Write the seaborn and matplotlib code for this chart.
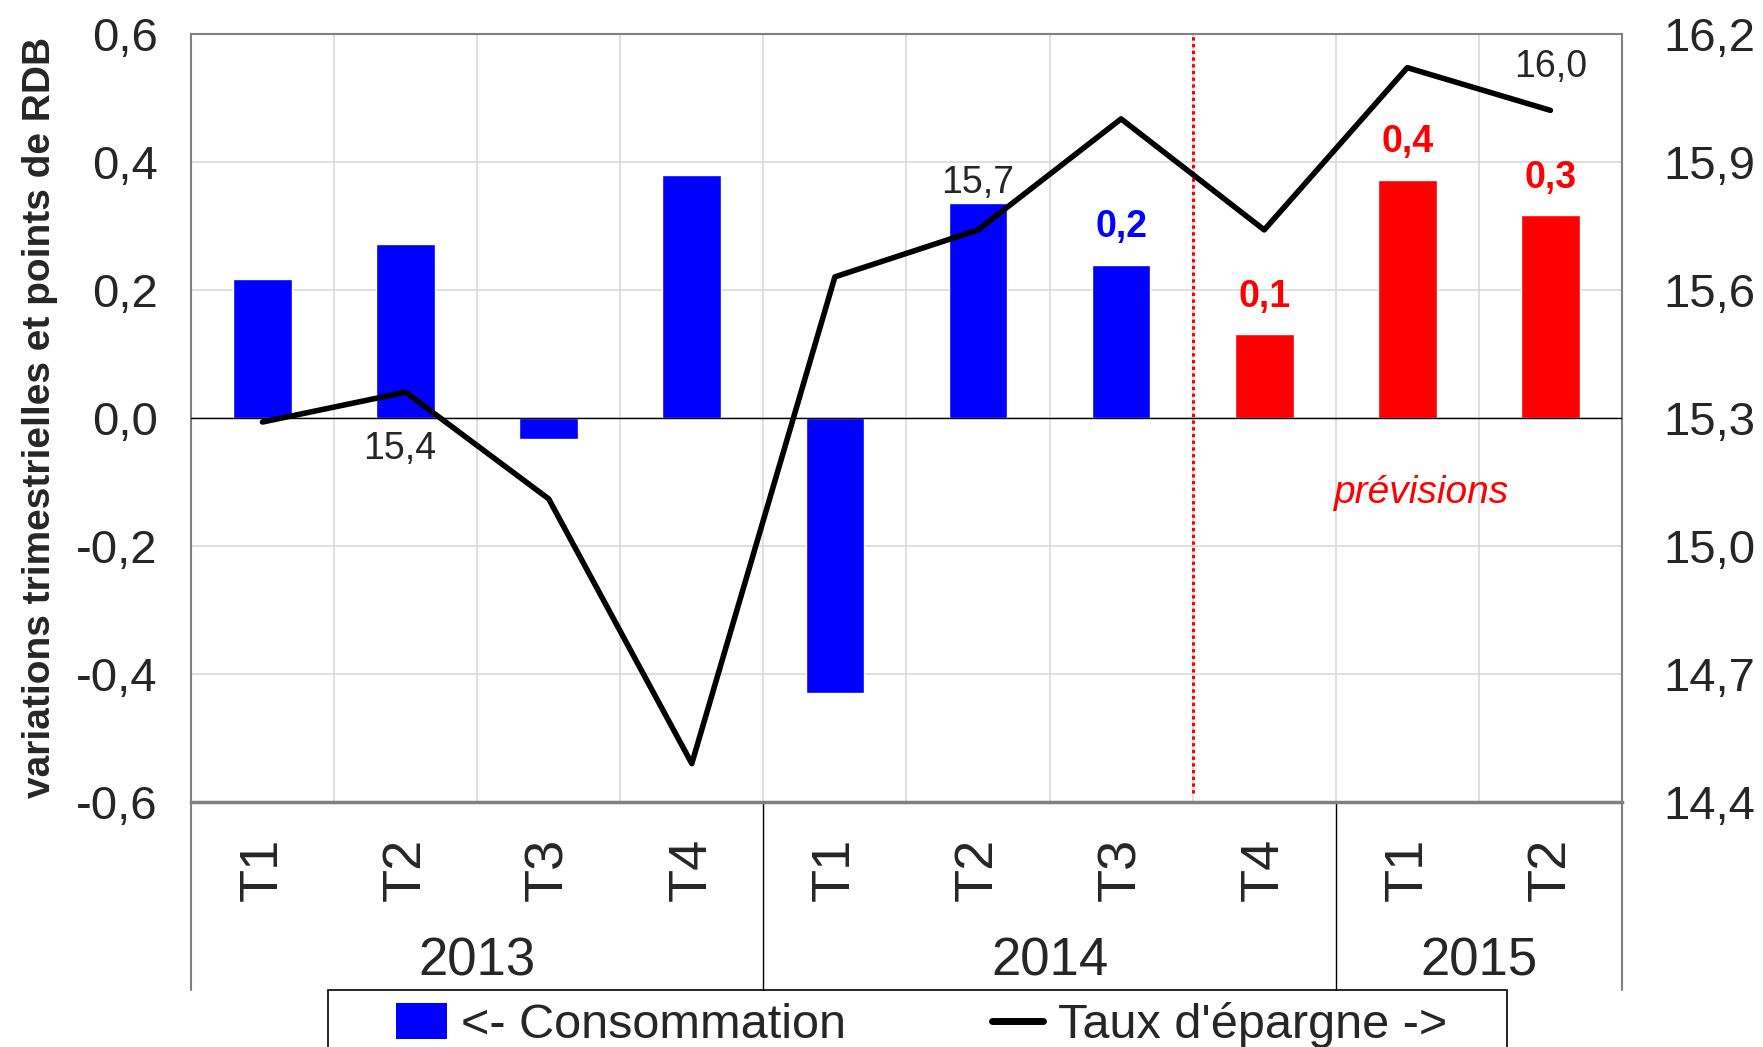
import matplotlib
matplotlib.use("Agg")
import matplotlib.pyplot as plt
import matplotlib.ticker as mticker
import matplotlib.transforms as mtransforms
from matplotlib.patches import Patch, Rectangle
from matplotlib.lines import Line2D
import seaborn as sns
import numpy as np
import pandas as pd

# data
periodes = ["2013 T1", "2013 T2", "2013 T3", "2013 T4",
            "2014 T1", "2014 T2", "2014 T3", "2014 T4",
            "2015 T1", "2015 T2"]
trimestres = ["T1", "T2", "T3", "T4", "T1", "T2", "T3", "T4", "T1", "T2"]
annees = ["2013", "2014", "2015"]
trim_par_annee = [4, 4, 2]
consommation = [0.216, 0.272, -0.033, 0.379, -0.43, 0.335, 0.239, 0.13, 0.372, 0.316]
taux_epargne = [15.29, 15.36, 15.11, 14.49, 15.63, 15.74, 16.0, 15.74, 16.12, 16.02]
statut = ["obs"] * 7 + ["prev"] * 3

BLUE = "#0000FF"
RED = "#FF0000"
NARROW = ["Liberation Sans Narrow", "Liberation Sans", "DejaVu Sans"]

sns.set_theme(style="white")
plt.rcParams["font.family"] = ["Liberation Sans", "DejaVu Sans"]

def virgule(v, pos=None):
    return f"{v:.1f}".replace(".", ",")

df = pd.DataFrame({"periode": periodes, "conso": consommation,
                   "epargne": taux_epargne, "statut": statut})
df["pos"] = np.arange(len(df))

fig = plt.figure(figsize=(17.63, 10.47), dpi=100)
ax = fig.add_axes([0.1083, 0.234, 0.8117, 0.734])

sns.barplot(data=df, x="periode", y="conso", hue="statut",
            palette={"obs": BLUE, "prev": RED}, dodge=False, width=0.41,
            saturation=1, legend=False, ax=ax, zorder=3)

ax.set_xlim(-0.5, len(df) - 0.5)
ax.set_ylim(-0.6, 0.6)
ax.yaxis.set_major_locator(mticker.MultipleLocator(0.2))
ax.yaxis.set_major_formatter(mticker.FuncFormatter(virgule))
ax.set_xticks(df["pos"])
ax.set_xticklabels(trimestres, rotation=90)
ax.xaxis.set_minor_locator(mticker.FixedLocator(df["pos"].values[:-1] + 0.5))
ax.tick_params(axis="x", which="both", length=0, pad=26, labelsize=39)
ax.tick_params(axis="y", length=0, pad=24, labelsize=34)
ax.grid(axis="y", which="major", color="#d9d9d9", lw=1.2, zorder=0)
ax.grid(axis="x", which="minor", color="#d9d9d9", lw=1.2, zorder=0)
ax.axhline(0, color="black", lw=1, zorder=4)
ax.set_xlabel("")
ax.set_ylabel("variations trimestrielles et points de RDB", fontsize=28,
              fontweight="bold", family=NARROW)
ax.yaxis.set_label_coords(-0.093, 0.5)
for side in ["left", "top", "right"]:
    ax.spines[side].set_color("#808080")
    ax.spines[side].set_linewidth(1.5)
ax.spines["bottom"].set_color("#808080")
ax.spines["bottom"].set_linewidth(2.5)

# forecast separator
ax.axvline(6.5, ymin=0.012, ymax=1, color=RED, ls=(0, (1.1, 1.1)), lw=2.2,
           zorder=5)
ax.text(8.1, -0.118, "prévisions", color=RED, fontsize=28, style="italic",
        ha="center", va="center")

# bar labels for recent quarters
for i in range(6, len(df)):
    v = consommation[i]
    ax.annotate(virgule(v), (i, v), xytext=(0, 27), textcoords="offset points",
                ha="center", va="center", fontsize=27, fontweight="bold",
                color=BLUE if statut[i] == "obs" else RED)

# year groups under the axis
trans = mtransforms.blended_transform_factory(ax.transData, ax.transAxes)
start = -0.5
for an, n in zip(annees, trim_par_annee):
    ax.text(start + n / 2, -0.207, an, transform=trans, ha="center",
            va="center", fontsize=38, family=NARROW)
    start += n
bounds = np.cumsum([0] + trim_par_annee) - 0.5
for k, b in enumerate(bounds):
    edge = k in (0, len(bounds) - 1)
    ax.plot([b, b], [0, -0.2445], transform=trans, clip_on=False,
            color="#808080" if edge else "black", lw=1.5 if edge else 1)

# saving rate on right axis
ax2 = ax.twinx()
sns.lineplot(data=df, x="pos", y="epargne", color="black", lw=4, ax=ax2,
             zorder=6)
ax2.set_ylim(14.4, 16.2)
ax2.yaxis.set_major_locator(mticker.MultipleLocator(0.3))
ax2.yaxis.set_major_formatter(mticker.FuncFormatter(virgule))
ax2.tick_params(axis="y", length=0, pad=30, labelsize=34)
ax2.set_ylabel("")
ax2.set_xlabel("")
ax2.set_xlim(-0.5, len(df) - 0.5)
for sp in ax2.spines.values():
    sp.set_visible(False)

for i, dx, dy in [(1, -4, -41), (5, 0, 34), (9, 0, 31)]:
    ax2.annotate(virgule(taux_epargne[i]), (i, taux_epargne[i]),
                 xytext=(dx, dy), textcoords="offset points",
                 ha="center", va="center", fontsize=27)

# legend box runs past the bottom edge
fig.patches.append(Rectangle((0.186, -0.05), 0.6687, 0.1044,
                             transform=fig.transFigure, fill=False,
                             edgecolor="black", lw=1.2))
handles = [Patch(facecolor=BLUE, edgecolor="none"),
           Line2D([0], [0], color="black", lw=5)]
leg = fig.legend(handles, ["<- Consommation", "Taux d'épargne ->"],
                 loc="upper center", bbox_to_anchor=(0.5226, 0.0544), ncol=2,
                 frameon=False, prop={"family": NARROW, "size": 35},
                 handlelength=1.05, handleheight=0.75, handletextpad=0.3,
                 columnspacing=3.0, borderpad=0.25, borderaxespad=0)

fig.savefig("out.png", dpi=100, facecolor="white")
